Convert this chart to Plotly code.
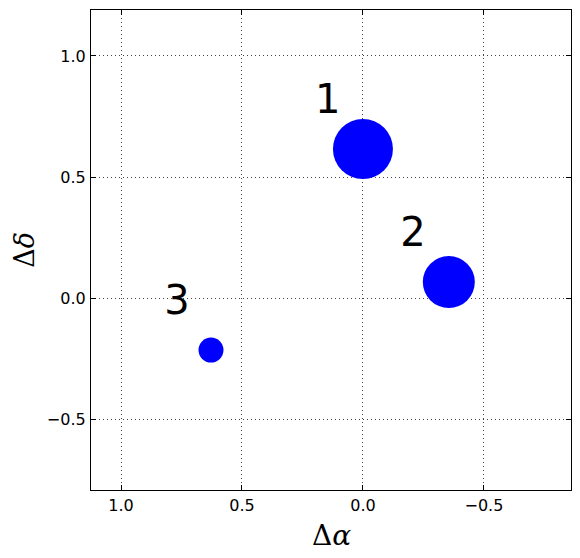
import plotly.graph_objects as go

# Data
labels = ["1", "2", "3"]
d_alpha = [0.0, -0.355, 0.628]
d_delta = [0.616, 0.066, -0.215]
marker_sizes = [60, 52, 25]
label_x = [0.145, -0.207, 0.769]
label_y = [0.807, 0.258, -0.026]
tick_vals = [-0.5, 0.0, 0.5, 1.0]
tick_text = ["\u22120.5", "0.0", "0.5", "1.0"]

fig = go.Figure()
fig.add_trace(go.Scatter(
    x=d_alpha, y=d_delta, mode="markers",
    marker=dict(size=marker_sizes, color="#0000ff", opacity=1, line=dict(width=0)),
    showlegend=False, hoverinfo="skip"))
fig.add_trace(go.Scatter(
    x=label_x, y=label_y, mode="text", text=labels,
    textfont=dict(family="DejaVu Sans", size=40, color="black"),
    showlegend=False, hoverinfo="skip"))

axis_common = dict(
    showline=True, linecolor="black", linewidth=1.2, mirror="allticks",
    ticks="inside", ticklen=5, tickcolor="black",
    showgrid=True, gridcolor="#444444", griddash="1px,3px", gridwidth=1,
    zeroline=False, tickvals=tick_vals, ticktext=tick_text,
    tickfont=dict(family="DejaVu Sans", size=16, color="black"),
    automargin=False,
)

fig.update_xaxes(range=[1.124, -0.86], ticklabelstandoff=1, **axis_common)
fig.update_yaxes(range=[-0.793, 1.19], ticklabelstandoff=1, **axis_common)

# axis titles
fig.add_annotation(text="Δ<i>α</i>", x=0.5, xref="paper", y=-0.095, yref="paper",
                   xanchor="center", yanchor="middle", showarrow=False,
                   font=dict(family="DejaVu Serif", size=28, color="black"))
fig.add_annotation(text="Δ<i>δ</i>", x=-0.14, xref="paper", y=0.5, yref="paper",
                   xanchor="center", yanchor="middle", showarrow=False, textangle=-90,
                   borderpad=0,
                   font=dict(family="DejaVu Serif", size=27, color="black"))

fig.update_layout(
    width=572, height=550,
    margin=dict(l=83, r=9, t=2, b=68, autoexpand=False),
    plot_bgcolor="white", paper_bgcolor="white",
)

fig.write_html("out.html")
